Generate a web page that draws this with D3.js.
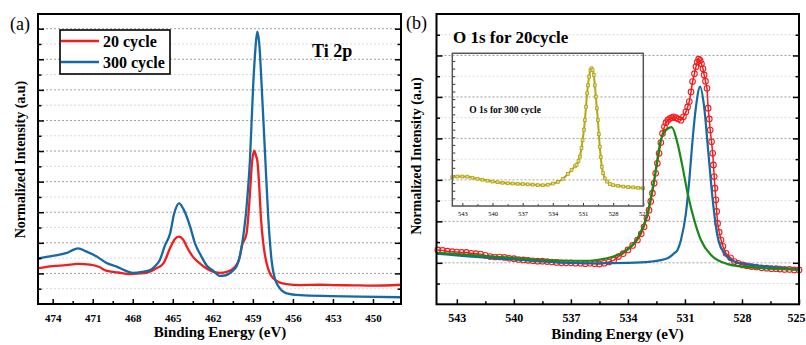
<!DOCTYPE html>
<html>
<head>
<meta charset="utf-8">
<script src="https://cdn.jsdelivr.net/npm/d3@7"></script>
<style>
body { margin:0; background:#fff; }
text { font-family: "Liberation Serif", "Times New Roman", serif; }
</style>
</head>
<body>
<svg id="chart"></svg>
<script>
// ---- data ----
// panel (a) Ti 2p : [binding energy, normalized intensity]
var ti20 = [[475.1,1.17],[474,1.24],[473,1.27],[472.1,1.31],[471.2,1.29],[470.5,1.21],[470,1.09],[469.1,1.03],
  [468.2,0.98],[467.5,1.0],[467,1.02],[466.35,1.14],[465.7,1.33],[465.2,1.83],[464.85,2.12],[464.55,2.2],
  [464.2,2.09],[463.9,1.83],[463.5,1.55],[463,1.34],[462.5,1.17],[462,1.06],[461.5,1.02],[460.9,1.06],
  [460.35,1.21],[460,1.5],[459.84,1.87],[459.47,2.31],[459.22,3.6],[459.09,4.49],[458.9,5.01],[458.77,4.85],
  [458.67,4.7],[458.52,3.83],[458.4,2.85],[458.22,1.98],[457.97,1.33],[457.72,1.0],[457.47,0.84],[456.97,0.7],
  [456.47,0.65],[455.47,0.62],[454,0.63],[453,0.62],[451.5,0.61],[450,0.6],[447.9,0.63]];
var ti300 = [[475.1,1.49],[474,1.57],[473,1.66],[472.1,1.82],[471.5,1.72],[470.7,1.55],[470,1.35],[469.2,1.22],
  [468.6,1.1],[468,1.02],[467.3,1.05],[466.7,1.11],[466.3,1.25],[465.97,1.44],[465.6,1.9],[465.2,2.31],
  [464.9,2.95],[464.53,3.29],[464.2,3.1],[463.7,2.53],[463.35,2.0],[462.85,1.55],[462.45,1.25],[461.97,1.09],
  [461.5,0.92],[461,0.94],[460.6,1.05],[460.2,1.25],[459.84,1.87],[459.47,3.18],[459.22,4.7],[458.97,7.2],
  [458.8,8.4],[458.67,8.9],[458.5,8.4],[458.35,7.2],[458.1,5.03],[457.85,2.85],[457.6,1.44],[457.22,0.68],
  [456.47,0.35],[455.47,0.29],[453.2,0.26],[451,0.24],[447.9,0.22]];

// panel (b) O 1s for 20cycle : measured points, and the two fitted peaks
var o1sRaw = [[544,1.31],[543.75,1.3],[543.5,1.28],[543.25,1.27],[543,1.26],[542.75,1.25],[542.5,1.25],[542.25,1.23],
  [542,1.22],[541.75,1.21],[541.5,1.18],[541.25,1.15],[541,1.14],[540.75,1.14],[540.5,1.13],[540.25,1.11],
  [540,1.1],[539.75,1.08],[539.5,1.07],[539.25,1.06],[539,1.05],[538.75,1.04],[538.5,1.04],[538.25,1.03],
  [538,1.02],[537.75,1.01],[537.5,1.0],[537.25,1.0],[537,1.0],[536.75,0.99],[536.5,0.99],[536.25,0.98],
  [536,0.99],[535.75,0.98],[535.5,0.97],[535.25,0.99],[535,1.02],[534.75,1.06],[534.5,1.15],[534.25,1.22],
  [534,1.31],[533.75,1.42],[533.5,1.55],[533.3,1.7],[533.15,1.87],[533,2.08],[532.89,2.27],[532.8,2.48],
  [532.71,2.68],[532.62,2.92],[532.54,3.16],[532.45,3.4],[532.36,3.64],[532.27,3.9],[532.18,4.12],[532.08,4.28],
  [532,4.38],[531.9,4.44],[531.8,4.48],[531.7,4.5],[531.6,4.52],[531.48,4.5],[531.36,4.47],[531.21,4.44],
  [531.08,4.52],[530.95,4.64],[530.86,4.76],[530.77,4.89],[530.68,5.12],[530.6,5.37],[530.5,5.56],[530.42,5.73],
  [530.35,5.84],[530.28,5.91],[530.2,5.88],[530.13,5.8],[530.05,5.68],[529.99,5.53],[529.92,5.38],[529.84,5.21],
  [529.78,4.73],[529.72,4.47],[529.67,4.2],[529.6,3.92],[529.54,3.64],[529.5,3.36],[529.46,3.08],[529.42,2.8],
  [529.37,2.52],[529.33,2.24],[529.28,1.95],[529.2,1.74],[529.1,1.55],[529,1.4],[528.84,1.23],[528.6,1.12],
  [528.4,1.03],[528.2,0.99],[527.96,0.95],[527.75,0.93],[527.5,0.91],[527.25,0.9],[526.97,0.88],[526.7,0.87],
  [526.45,0.86],[526.2,0.86],[526,0.85],[525.76,0.84],[525.5,0.84],[525.25,0.83],[525,0.83]];
var o1sFitLow = [[544.07,1.22],[542,1.14],[540,1.08],[537,1.0],[535.8,0.99],[534,1.0],[532.8,1.03],[531.92,1.11],
  [531.57,1.23],[531.39,1.31],[531.21,1.55],[530.95,2.19],[530.77,3.0],[530.6,3.96],[530.42,4.76],[530.2,5.25],
  [529.99,4.76],[529.78,3.72],[529.54,2.52],[529.28,1.63],[528.93,1.23],[528.4,1.03],[527.5,0.95],[526.64,0.91],[525,0.84]];
var o1sFitHigh = [[544.07,1.24],[543,1.21],[542,1.18],[541,1.15],[540,1.12],[539,1.08],[538,1.06],[537,1.05],
  [536,1.05],[535.2,1.1],[534.2,1.27],[533.5,1.59],[532.97,2.19],[532.62,3.0],[532.27,3.96],[532,4.2],
  [531.7,4.27],[531.39,3.88],[531.13,3.32],[530.86,2.68],[530.51,2.03],[530.16,1.55],[529.63,1.19],
  [528.75,0.97],[527.52,0.89],[525,0.84]];

// inset: O 1s for 300 cycle
var o1s300 = [[544,1.88],[543.5,1.93],[543,1.93],[542.5,1.92],[542,1.85],[541.5,1.78],[541,1.72],[540.5,1.66],
  [540,1.6],[539.5,1.56],[539,1.52],[538.5,1.49],[538,1.47],[537.5,1.45],[537,1.44],[536.5,1.42],[536,1.4],
  [535.5,1.37],[535,1.36],[534.5,1.39],[534,1.47],[533.5,1.58],[533,1.78],[532.5,2.1],[532.14,2.36],[531.8,2.6],
  [531.64,2.69],[531.45,2.95],[531.31,3.23],[531.15,3.8],[531.04,4.32],[530.9,5.0],[530.81,5.63],[530.7,6.5],
  [530.59,7.38],[530.5,7.9],[530.39,8.47],[530.25,8.9],[530.15,9.02],[530.05,8.9],[529.92,8.58],[529.82,7.9],
  [529.72,7.16],[529.62,6.4],[529.52,5.63],[529.42,4.7],[529.33,3.88],[529.23,3.2],[529.13,2.57],[529,2.15],
  [528.83,1.81],[528.6,1.6],[528.33,1.44],[528,1.37],[527.5,1.32],[527,1.27],[526.5,1.24],[526,1.22],
  [525.5,1.19],[525.03,1.16]];

var tiTicks = [474, 471, 468, 465, 462, 459, 456, 453, 450];
var oTicks = [543, 540, 537, 534, 531, 528, 525];
var legendNames = ["20 cycle", "300 cycle"];
var colors = {red:"#f21d1d", blue:"#1769a6", green:"#178a17", olive:"#b6a616"};
var serif = "'Liberation Serif', 'Times New Roman', serif";

var svg = d3.select("#chart").attr("width", 806).attr("height", 345);

// dotted gridlines for one panel
var drawFrame = function(g, x, y, majorsY, minorsY)
{
    var x0 = x.range()[0], x1 = x.range()[1];
    g.append("g").selectAll("line").data(minorsY).enter().append("line")
        .attr("x1", x0).attr("x2", x1).attr("y1", y).attr("y2", y)
        .attr("stroke", "#dadada").attr("stroke-dasharray", "2,2")
    g.append("g").selectAll("line").data(majorsY).enter().append("line")
        .attr("x1", x0).attr("x2", x1).attr("y1", y).attr("y2", y)
        .attr("stroke", "#a0a0a0").attr("stroke-dasharray", "2,2")
}
// inward ticks, tick labels and the black box
var drawAxes = function(g, x, y, majorsY, minorsY, majorsX, minorsX, labelSize, pad)
{
    var x0 = x.range()[0], x1 = x.range()[1], yb = y.range()[0], yt = y.range()[1];
    var clean = function(a){ a.attr("font-family", serif); a.select(".domain").remove(); a.selectAll("line").attr("stroke","#000").attr("stroke-width",1.5); }
    g.append("g").attr("transform","translate("+x0+",0)")
        .call(d3.axisLeft(y).tickValues(majorsY).tickSize(-6).tickFormat("")).call(clean)
    g.append("g").attr("transform","translate("+x0+",0)")
        .call(d3.axisLeft(y).tickValues(minorsY).tickSize(-3.5).tickFormat("")).call(clean)
    g.append("g").attr("transform","translate("+x1+",0)")
        .call(d3.axisRight(y).tickValues(majorsY).tickSize(-6).tickFormat("")).call(clean)
    g.append("g").attr("transform","translate("+x1+",0)")
        .call(d3.axisRight(y).tickValues(minorsY).tickSize(-3.5).tickFormat("")).call(clean)
    var bx = g.append("g").attr("transform","translate(0,"+yb+")")
        .call(d3.axisBottom(x).tickValues(majorsX).tickSize(-5).tickPadding(pad).tickFormat(d3.format("d"))).call(clean)
    bx.selectAll("text").attr("font-size", labelSize).attr("font-weight","bold").attr("fill","#000")
        .style("font-family", serif)
        .attr("dx", function(d, i){ return i == majorsX.length-1 && x(d) > 790 ? -3 : 0 })
    g.append("g").attr("transform","translate(0,"+yb+")")
        .call(d3.axisBottom(x).tickValues(minorsX).tickSize(-3).tickFormat("")).call(clean)
    g.append("rect").attr("x", x0).attr("y", yt).attr("width", x1-x0).attr("height", yb-yt)
        .attr("fill","none").attr("stroke","#000").attr("stroke-width",2)
}

// ---------- panel (a) ----------
var ax = d3.scaleLinear().domain([475.1, 447.9]).range([38, 401]);
var ay = d3.scaleLinear().domain([0, 9.48]).range([304, 14]);
var pa = svg.append("g");
var aMajY = d3.range(1, 10), aMinY = d3.range(0.5, 9.4, 1), aMinX = d3.range(448.5, 475, 3);
drawFrame(pa, ax, ay, aMajY, aMinY);

var lineA = d3.line().x(function(d){return ax(d[0])}).y(function(d){return ay(d[1])}).curve(d3.curveMonotoneX);
pa.append("path").datum(ti20).attr("d", lineA).attr("fill","none").attr("stroke",colors.red).attr("stroke-width",2.3)
pa.append("path").datum(ti300).attr("d", lineA).attr("fill","none").attr("stroke",colors.blue).attr("stroke-width",2.3)
drawAxes(pa, ax, ay, aMajY, aMinY, tiTicks, aMinX, 11, 10);

var legend = pa.append("g");
legend.append("rect").attr("x",60).attr("y",30).attr("width",110).attr("height",44)
    .attr("fill","#fff").attr("stroke","#000").attr("stroke-width",1.6)
legend.selectAll(".ln").data(legendNames).enter().append("line")
    .attr("x1",61).attr("x2",99).attr("y1",function(d,i){return 41+i*21}).attr("y2",function(d,i){return 41+i*21})
    .attr("stroke",function(d,i){return i==0?colors.red:colors.blue}).attr("stroke-width",2.3)
legend.selectAll(".tx").data(legendNames).enter().append("text")
    .attr("x",103).attr("y",function(d,i){return 47+i*20.5}).text(function(d){return d})
    .attr("font-size",16).attr("font-weight","bold")

pa.append("text").text("Ti 2p").attr("x",312).attr("y",57).attr("font-size",18).attr("font-weight","bold")
pa.append("text").text("(a)").attr("x",10).attr("y",30).attr("font-size",18)
pa.append("text").text("Binding Energy (eV)").attr("text-anchor","middle").attr("x",220).attr("y",337)
    .attr("font-size",15).attr("font-weight","bold")
pa.append("text").text("Normalized Intensity (a.u)").attr("text-anchor","middle")
    .attr("transform","translate(24.5,159.5) rotate(-90)").attr("font-size",14).attr("font-weight","bold")

// ---------- panel (b) ----------
var bx = d3.scaleLinear().domain([544.07, 525]).range([436.5, 799]);
var by = d3.scaleLinear().domain([0, 7]).range([304.3, 14]);
var pb = svg.append("g");
var bMajY = d3.range(1, 7), bMinY = d3.range(0.5, 7, 1), bMinX = d3.range(526.5, 544, 3);
drawFrame(pb, bx, by, bMajY, bMinY);

// inset
var ix = d3.scaleLinear().domain([544, 525]).range([452.3, 643.3]);
var iy = d3.scaleLinear().domain([0, 10]).range([206, 53.3]);
var inset = pb.append("g");
var iclean = function(a){ a.attr("font-family", serif); a.select(".domain").remove(); a.selectAll("line").attr("stroke","#333").attr("stroke-width",1); }
inset.append("g").attr("transform","translate(452.3,0)")
    .call(d3.axisLeft(iy).tickValues(d3.range(0.5, 10, 0.5)).tickSize(-3).tickFormat("")).call(iclean)
var ixa = inset.append("g").attr("transform","translate(0,206)")
    .call(d3.axisBottom(ix).tickValues(oTicks).tickSize(-3).tickPadding(5.4).tickFormat(d3.format("d"))).call(iclean)
ixa.selectAll("text").attr("font-size",6.5).attr("fill","#000").style("font-family", serif)
inset.append("g").attr("transform","translate(0,206)")
    .call(d3.axisBottom(ix).tickValues(d3.range(526.5, 544, 3)).tickSize(-1.8).tickFormat("")).call(iclean)
var lineI = d3.line().x(function(d){return ix(d[0])}).y(function(d){return iy(d[1])}).curve(d3.curveMonotoneX);
inset.append("path").datum(o1s300).attr("d", lineI).attr("fill","none").attr("stroke",colors.olive).attr("stroke-width",2)
inset.selectAll(".sq").data(o1s300).enter().append("rect")
    .attr("x",function(d){return ix(d[0])-1.4}).attr("y",function(d){return iy(d[1])-1.4})
    .attr("width",2.8).attr("height",2.8).attr("fill","#e8e0a0").attr("stroke",colors.olive).attr("stroke-width",0.9)
inset.append("rect").attr("x",452.3).attr("y",53.3).attr("width",191).attr("height",152.7)
    .attr("fill","none").attr("stroke","#555").attr("stroke-width",1.5)
inset.append("text").text("O 1s for 300 cycle").attr("x",469.3).attr("y",113)
    .attr("font-size",9.5).attr("font-weight","bold")

// main O 1s curves
var lineB = d3.line().x(function(d){return bx(d[0])}).y(function(d){return by(d[1])});
pb.append("path").datum(o1sRaw).attr("d", lineB).attr("fill","none").attr("stroke",colors.red).attr("stroke-width",1.5)
pb.selectAll(".pt").data(o1sRaw).enter().append("circle")
    .attr("cx",function(d){return bx(d[0])}).attr("cy",function(d){return by(d[1])}).attr("r",2.8)
    .attr("fill","none").attr("stroke",colors.red).attr("stroke-width",1.1)
var lineFit = d3.line().x(function(d){return bx(d[0])}).y(function(d){return by(d[1])}).curve(d3.curveMonotoneX);
pb.append("path").datum(o1sFitLow).attr("d", lineFit).attr("fill","none").attr("stroke",colors.blue).attr("stroke-width",2.2)
pb.append("path").datum(o1sFitHigh).attr("d", lineFit).attr("fill","none").attr("stroke",colors.green).attr("stroke-width",2.2)
drawAxes(pb, bx, by, bMajY, bMinY, oTicks, bMinX, 12, 9.5);

pb.append("text").text("O 1s for 20cycle").attr("x",453).attr("y",43).attr("font-size",17).attr("font-weight","bold")
pb.append("text").text("(b)").attr("x",406).attr("y",29).attr("font-size",18)
pb.append("text").text("Binding Energy (eV)").attr("text-anchor","middle").attr("x",617.5).attr("y",339)
    .attr("font-size",15).attr("font-weight","bold")
pb.append("text").text("Normalized Intensity (a.u)").attr("text-anchor","middle")
    .attr("transform","translate(421,156) rotate(-90)").attr("font-size",14).attr("font-weight","bold")
</script>
</body>
</html>
